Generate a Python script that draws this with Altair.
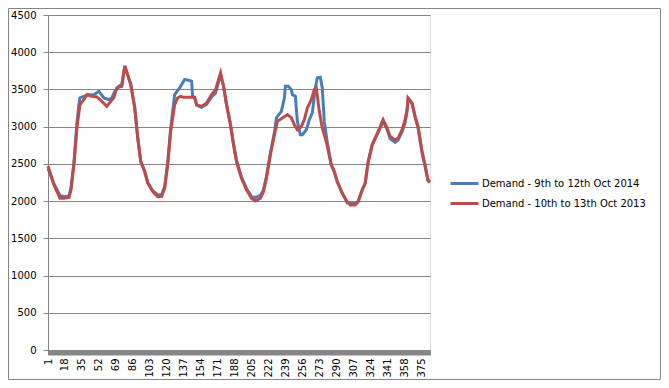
import altair as alt
import pandas as pd

series_names = ["Demand - 9th to 12th Oct 2014", "Demand - 10th to 13th Oct 2013"]
series_colors = ["#4A7EBB", "#BE4B48"]

# 2014 series (blue): sample index (15-min interval) and demand
blue_idx = [1, 7, 13, 17, 22, 24, 27, 30, 32, 33, 37, 41, 47, 52, 54, 57, 62, 65, 68, 72, 75, 78,
            84, 88, 91, 94, 98, 101, 106, 111, 115, 118, 121, 124, 128, 133, 138, 143, 145, 146, 148,
            150, 155, 160, 165, 169, 174, 177, 180, 184, 187, 190, 195, 200, 205, 209, 214, 217, 220,
            224, 228, 230, 235, 238, 239, 242, 245, 246, 249, 251, 254, 256, 260, 263, 266, 269, 271,
            274, 276, 278, 281, 285, 288, 291, 296, 301, 304, 309, 312, 316, 319, 322, 326, 329, 332,
            337, 341, 344, 349, 352, 356, 359, 361, 362, 366, 369, 372, 376, 379, 382, 384]
blue_val = [2440, 2230, 2075, 2060, 2070, 2170, 2520, 3050, 3300, 3386, 3408, 3430, 3430, 3475, 3440,
            3386, 3363, 3386, 3475, 3543, 3565, 3815, 3565, 3251, 2847, 2531, 2397, 2250, 2140, 2083,
            2090, 2200, 2520, 2980, 3430, 3521, 3633, 3620, 3610, 3410, 3386, 3290, 3260, 3300, 3400,
            3450, 3700, 3543, 3296, 3026, 2770, 2545, 2320, 2170, 2060, 2050, 2075, 2150, 2330, 2650,
            2920, 3120, 3206, 3386, 3543, 3543, 3498, 3430, 3408, 3071, 2891, 2891, 2959, 3094, 3184,
            3521, 3656, 3664, 3521, 3071, 2790, 2487, 2397, 2262, 2106, 1975, 1970, 1970, 2000, 2150,
            2240, 2520, 2750, 2840, 2920, 3071, 2960, 2840, 2790, 2820, 2930, 3050, 3200, 3370, 3310,
            3130, 2990, 2650, 2470, 2270, 2250]

# 2013 series (red)
red_idx = [1, 7, 13, 17, 22, 24, 27, 30, 33, 37, 40, 44, 50, 55, 60, 63, 67, 70, 75, 78, 84, 88, 91,
           94, 98, 101, 106, 111, 115, 118, 121, 124, 128, 131, 134, 137, 148, 150, 155, 160, 165, 169,
           174, 177, 180, 184, 187, 190, 195, 200, 205, 209, 214, 217, 220, 224, 228, 231, 236, 241,
           245, 248, 251, 255, 258, 261, 265, 268, 270, 273, 276, 280, 285, 288, 291, 296, 301, 304,
           309, 312, 316, 319, 322, 326, 329, 332, 337, 341, 344, 349, 352, 356, 359, 361, 362, 366,
           369, 372, 376, 379, 382, 384]
red_val = [2470, 2217, 2038, 2040, 2050, 2150, 2487, 2982, 3296, 3363, 3430, 3410, 3400, 3340, 3273,
           3323, 3390, 3521, 3543, 3815, 3565, 3251, 2847, 2531, 2397, 2240, 2127, 2060, 2065, 2173,
           2487, 2936, 3296, 3386, 3408, 3394, 3394, 3296, 3273, 3319, 3430, 3498, 3723, 3543, 3296,
           3026, 2757, 2531, 2308, 2150, 2038, 2002, 2038, 2127, 2308, 2622, 2891, 3071, 3117, 3161,
           3117, 3026, 2959, 3003, 3094, 3251, 3363, 3498, 3521, 3206, 2982, 2801, 2487, 2397, 2262,
           2106, 1992, 1948, 1948, 1992, 2150, 2240, 2531, 2757, 2847, 2936, 3094, 2982, 2869, 2820,
           2847, 2959, 3094, 3229, 3386, 3319, 3138, 3003, 2666, 2487, 2285, 2260]

x_label_step = 17
n_points = 384
y_ticks = list(range(0, 4501, 500))

df = pd.concat([
    pd.DataFrame({"series": series_names[0], "idx": blue_idx, "value": blue_val}),
    pd.DataFrame({"series": series_names[1], "idx": red_idx, "value": red_val}),
])

FONT = "DejaVu Sans"
GRAY = "#868686"

color = alt.Color(
    "series:N",
    scale=alt.Scale(domain=series_names, range=series_colors),
    legend=alt.Legend(
        title=None, orient="none", legendX=405, legendY=157,
        symbolType="M-1.4,0H1.4", symbolSize=400, symbolStrokeWidth=3,
        labelOffset=6, rowPadding=2, labelFont=FONT, labelFontSize=10,
        labelColor="black", labelLimit=300, padding=0,
    ),
)

x = alt.X(
    "idx:Q",
    scale=alt.Scale(domain=[1, n_points], nice=False, zero=False),
    axis=alt.Axis(
        values=list(range(1, n_points + 1)),
        labelExpr=f"(datum.value - 1) % {x_label_step} == 0 ? datum.label : ''",
        labelAngle=270, labelFlush=False, labelOverlap=False, grid=False,
        tickSize=5, tickColor=GRAY, domainColor=GRAY, labelPadding=3,
        labelFont=FONT, labelFontSize=10, labelColor="black", title=None,
    ),
)
y = alt.Y(
    "value:Q",
    scale=alt.Scale(domain=[0, 4500], nice=False),
    axis=alt.Axis(
        values=y_ticks, format="d", grid=True, gridColor=GRAY, tickSize=5, tickColor=GRAY,
        domainColor=GRAY, labelPadding=7, labelFont=FONT, labelFontSize=10,
        labelColor="black", title=None,
    ),
)

base = alt.Chart(df)
blue = base.transform_filter(alt.datum.series == series_names[0]).mark_line(strokeWidth=3).encode(
    x=x, y=y, color=color)
red = base.transform_filter(alt.datum.series == series_names[1]).mark_line(strokeWidth=3).encode(
    x=x, y=y, color=color)

border = alt.Chart(alt.Data(values=[{"a": 1}])).mark_rect(
    filled=False, stroke=GRAY, strokeWidth=1
).encode(x=alt.value(-39.5), x2=alt.value(612.5), y=alt.value(-6.5), y2=alt.value(364.5))

chart = alt.layer(border, blue, red).properties(
    width=382, height=335,
    padding={"left": 40, "top": 7, "right": 231, "bottom": 30},
    autosize=alt.AutoSizeParams(type="none"),
).configure_view(stroke=None).configure(background="white")

chart.save("out.html", embed_options={"renderer": "svg", "actions": False})
